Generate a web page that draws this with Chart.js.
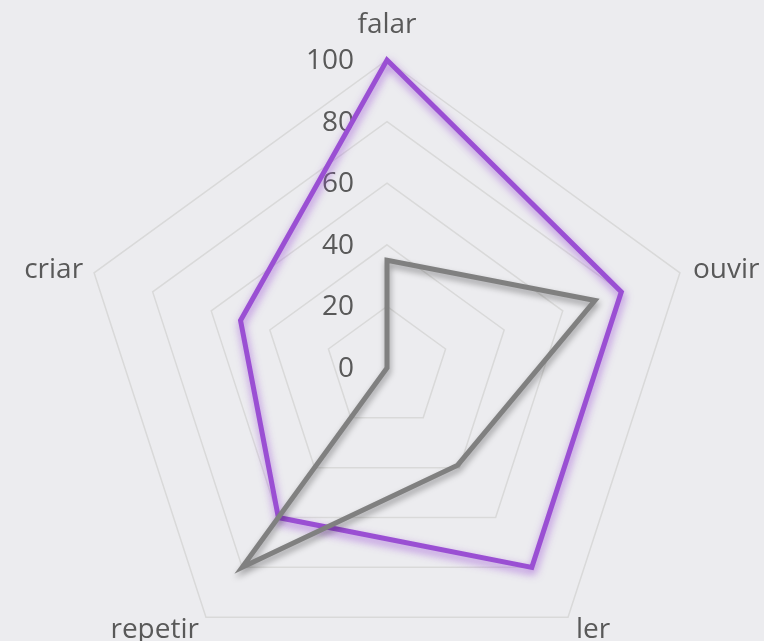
<!DOCTYPE html>
<html>
<head>
<meta charset="utf-8">
<script src="https://cdn.jsdelivr.net/npm/chart.js@4/dist/chart.umd.min.js"></script>
<style>
  html, body { margin: 0; padding: 0; background: #ececef; overflow: hidden; }
  body { width: 764px; height: 641px; }
  /* the plot runs a little past the window edges, as in the Excel picture */
  #wrap { width: 775px; height: 676px; }
</style>
</head>
<body>
<div id="wrap"><canvas id="radar"></canvas></div>
<script>
// chart data
const labels = ["falar", "ouvir", "ler", "repetir", "criar"];
const grayValues = [35, 71, 39, 80, 0];
const purpleValues = [100, 80, 80, 60, 50];
const tickValues = [0, 20, 40, 60, 80, 100];

const FONT = "'Open Sans', 'DejaVu Sans', sans-serif";
const TEXT = '#595959';

// Excel puts the axis numbers to the left of the vertical spoke, under the lines,
// and places the category names round the outer ring its own way
const excelLabels = {
    id: 'excelLabels',
    beforeDatasetsDraw(chart) {
        const scale = chart.scales.r;
        const ctx = chart.ctx;
        ctx.save();
        ctx.font = "28px " + FONT;
        ctx.fillStyle = TEXT;

        ctx.textAlign = 'right';
        ctx.textBaseline = 'middle';
        tickValues.forEach(v => {
            const p = scale.getPointPositionForValue(0, v);
            ctx.fillText(String(v), p.x - 33, p.y + 1);
        });

        ctx.textBaseline = 'alphabetic';
        chart.data.labels.forEach((txt, i) => {
            const p = scale.getPointPosition(i, scale.drawingArea);
            const dx = p.x - scale.xCenter;
            const dy = p.y - scale.yCenter;
            if (Math.abs(dx) < 5) {
                ctx.textAlign = 'center';
                ctx.fillText(txt, p.x, p.y - 27);
            } else if (dy < 0) {
                ctx.textAlign = dx > 0 ? 'left' : 'right';
                ctx.fillText(txt, p.x + (dx > 0 ? 13 : -11), p.y + 5);
            } else {
                ctx.textAlign = dx > 0 ? 'left' : 'right';
                ctx.fillText(txt, p.x + (dx > 0 ? 8 : -7), p.y + 21);
            }
        });
        ctx.restore();
    }
};

// soft shadow under each line
const lineShadow = {
    id: 'lineShadow',
    beforeDatasetDraw(chart, args) {
        const ctx = chart.ctx;
        const ds = chart.data.datasets[args.index];
        ctx.save();
        ctx.shadowColor = ds.shadow;
        ctx.shadowBlur = ds.blur;
        ctx.shadowOffsetX = 1;
        ctx.shadowOffsetY = 4;
    },
    afterDatasetDraw(chart) {
        chart.ctx.restore();
    }
};

new Chart(document.getElementById('radar'), {
    type: 'radar',
    data: {
        labels: labels,
        datasets: [
            {
                label: 'B',
                data: grayValues,
                borderColor: '#808080',
                borderWidth: 5,
                fill: false,
                pointRadius: 0,
                shadow: 'rgba(0,0,0,0.35)',
                blur: 6
            },
            {
                label: 'A',
                data: purpleValues,
                borderColor: '#9a4fd3',
                borderWidth: 5,
                fill: false,
                pointRadius: 0,
                shadow: 'rgba(155,79,214,0.75)',
                blur: 9
            }
        ]
    },
    options: {
        responsive: true,
        maintainAspectRatio: false,
        animation: false,
        layout: { padding: { top: 60, bottom: 0, left: 0, right: 0 } },
        elements: { line: { tension: 0, borderJoinStyle: 'miter' } },
        plugins: { legend: { display: false }, tooltip: { enabled: false } },
        scales: {
            r: {
                min: 0,
                max: 100,
                ticks: { stepSize: 20, display: false },
                grid: { color: '#d9d9d9', lineWidth: 1.5 },
                angleLines: { display: false },
                pointLabels: { display: false }
            }
        }
    },
    plugins: [excelLabels, lineShadow]
});
</script>
</body>
</html>
